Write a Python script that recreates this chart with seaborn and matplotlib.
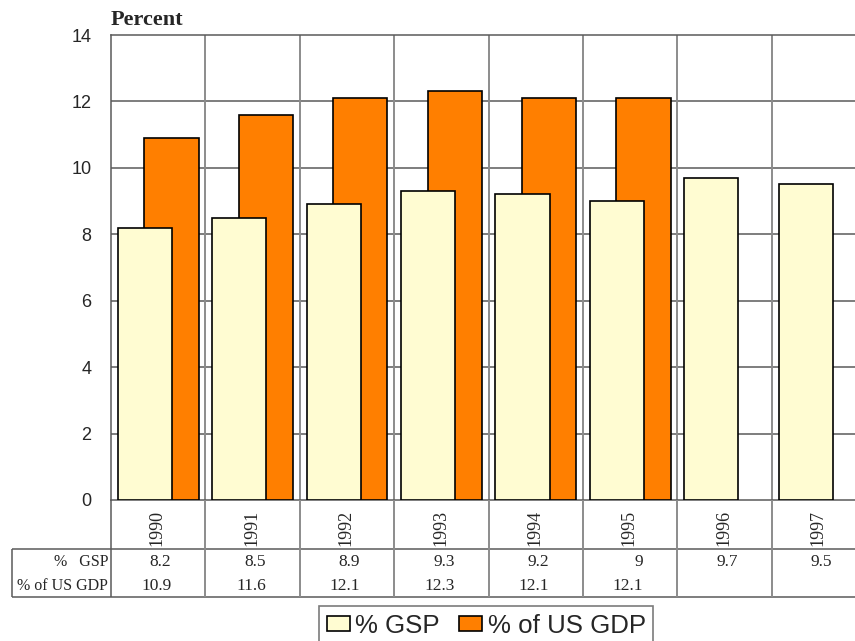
import numpy as np
import pandas as pd
import matplotlib
matplotlib.use("Agg")
import matplotlib.pyplot as plt
from matplotlib.patches import Patch
import seaborn as sns

# Data
years = ["1990", "1991", "1992", "1993", "1994", "1995", "1996", "1997"]
gsp = [8.2, 8.5, 8.9, 9.3, 9.2, 9.0, 9.7, 9.5]
us_gdp = [10.9, 11.6, 12.1, 12.3, 12.1, 12.1, None, None]
gsp_labels = ["8.2", "8.5", "8.9", "9.3", "9.2", "9", "9.7", "9.5"]
gdp_labels = ["10.9", "11.6", "12.1", "12.3", "12.1", "12.1", "", ""]
series_names = ["% GSP", "% of US GDP"]
row_labels = ["%   GSP", "% of US GDP"]

yellow = "#FFFCD2"
orange = "#FF7F00"
grid_dark = "#5a5a5a"
grid_light = "#8c8c8c"

sns.set_style("white")
plt.rcParams["font.family"] = ["Liberation Sans", "DejaVu Sans"]
serif = ["Liberation Serif", "DejaVu Serif"]

W, H = 855, 641
fig = plt.figure(figsize=(W / 100, H / 100), dpi=100)

# plot area in pixels: left 111, top 35, bottom 500; eight categories 94.4 px wide
cat_px = 94.4
left_px, top_px, bot_px = 111, 35, 500
ax = fig.add_axes([left_px / W, (H - bot_px) / H, 8 * cat_px / W, (bot_px - top_px) / H])

pos = np.arange(len(years))
bar_w = 0.574
shift = 0.141

df_gdp = pd.DataFrame({"x": pos + shift, "v": us_gdp}).dropna()
df_gsp = pd.DataFrame({"x": pos - shift, "v": gsp})

sns.barplot(data=df_gdp, x="x", y="v", native_scale=True, width=bar_w,
            color=orange, saturation=1, edgecolor="black", linewidth=1.2,
            errorbar=None, ax=ax, zorder=3)
sns.barplot(data=df_gsp, x="x", y="v", native_scale=True, width=bar_w,
            color=yellow, saturation=1, edgecolor="black", linewidth=1.2,
            errorbar=None, ax=ax, zorder=4)

ax.set_xlim(-0.5, len(years) - 0.5)
ax.set_ylim(0, 14)
ax.set_yticks(np.arange(0, 15, 2))
ax.set_yticklabels([str(v) for v in range(0, 15, 2)], fontsize=13)
ax.tick_params(axis="y", length=0, pad=14)
ax.set_xticks([])
ax.set_xlabel("")
ax.set_ylabel("")

# gridlines: dark horizontals, lighter category separators
for yv in range(2, 14, 2):
    ax.axhline(yv, color=grid_dark, lw=1.1, zorder=1)
for k in range(1, len(years)):
    ax.axvline(k - 0.5, color=grid_light, lw=1.4, zorder=1)
for side in ["left", "top", "bottom"]:
    ax.spines[side].set_color(grid_dark)
    ax.spines[side].set_linewidth(1.1)
ax.spines["right"].set_visible(False)

ax.text(0, 1.0215, "Percent", transform=ax.transAxes, fontsize=16,
        fontweight="bold", family=serif, ha="left", va="baseline")

# data table below the plot area, coordinates in pixels from the axis line
tab = fig.add_axes([left_px / W, (H - 597) / H, 8 * cat_px / W, 97 / H], sharex=ax)
tab.set_ylim(97, 0)
tab.axis("off")
x_left = -0.5 - (left_px - 12) / cat_px
x_right = len(years) - 0.5
tab.hlines([49, 97], x_left, x_right, color=grid_dark, lw=1.1, clip_on=False)
tab.vlines(x_left, 49, 97, color=grid_dark, lw=1.1, clip_on=False)
for k in range(len(years) + 1):
    tab.vlines(k - 0.5, 0, 97, color=grid_light if k else grid_dark,
               lw=1.4 if k else 1.1, clip_on=False)

for i, yr in enumerate(years):
    tab.text(i - 0.01, 28, yr, rotation=90, ha="center", va="center",
             fontsize=13, family=serif)
    tab.text(i + 0.14, 62, gsp_labels[i], ha="right", va="center",
             fontsize=12.5, family=serif)
    tab.text(i + 0.14, 86, gdp_labels[i], ha="right", va="center",
             fontsize=12.5, family=serif)

x_lab = -0.5 - 3 / cat_px
for r, lab in enumerate(row_labels):
    tab.text(x_lab, 62 + 24 * r, lab, ha="right", va="center",
             fontsize=11.5, family=serif, clip_on=False)

handles = [Patch(facecolor=yellow, edgecolor="black", lw=1.2, label=series_names[0]),
           Patch(facecolor=orange, edgecolor="black", lw=1.2, label=series_names[1])]
leg = fig.legend(handles=handles, loc="upper left",
                 bbox_to_anchor=(319 / W, 1 - 606 / H), borderaxespad=0,
                 ncol=2, fontsize=18.6, frameon=True, fancybox=False,
                 handlelength=0.9, handleheight=0.55, handletextpad=0.2,
                 columnspacing=0.75, borderpad=0.3)
leg.get_frame().set_edgecolor(grid_dark)
leg.get_frame().set_linewidth(1.2)

fig.savefig("out.png", dpi=100)
